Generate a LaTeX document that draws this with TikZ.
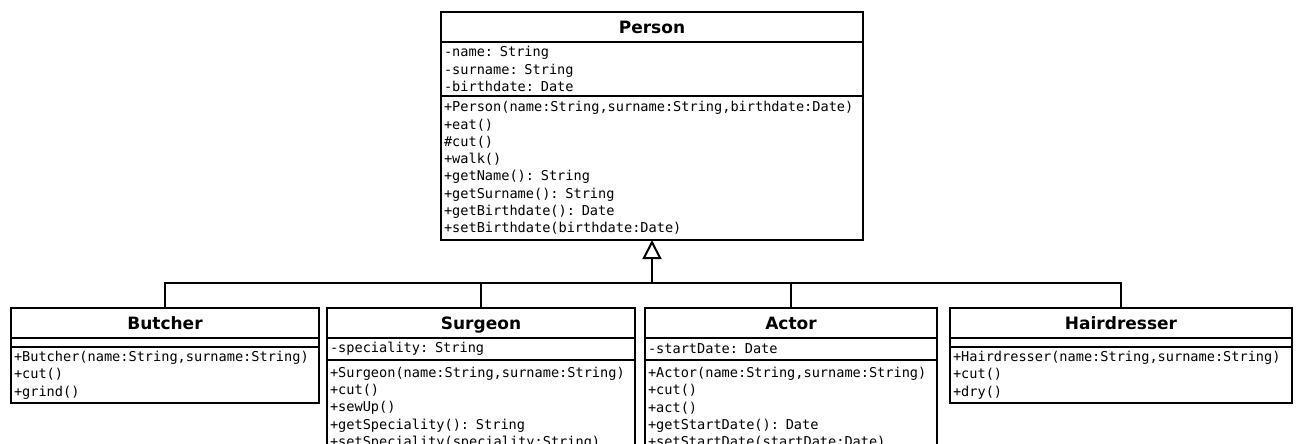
\documentclass[tikz,border=0pt]{standalone}
\usepackage{fontspec}
\setsansfont{DejaVu Sans}
\setmonofont{DejaVu Sans Mono}
\usetikzlibrary{arrows.meta}

\begin{document}
\begin{tikzpicture}[x=0.5pt,y=-0.5pt,line width=1pt]

        \path[use as bounding box] (0,0) rectangle (1296,444);
        \clip (0,0) rectangle (1296,444);

        \begin{scope}[every node/.style={draw,anchor=north west,outer sep=0pt,inner xsep=1.5pt,inner ysep=0pt}]
          \begin{scope}[every node/.append style={font=\sffamily\bfseries\fontsize{8.5}{10}\selectfont,align=center,minimum height=15pt,text height=7.9pt,text depth=1.7pt}]
            \node[minimum width=211pt] (person)      at (441,12)  {Person};
            \node[minimum width=154pt] (butcher)     at (11,308)  {Butcher};
            \node[minimum width=154pt] (surgeon)     at (327,308) {Surgeon};
            \node[minimum width=146pt] (actor)       at (645,308) {Actor};
            \node[minimum width=171pt] (hairdresser) at (950,308) {Hairdresser};
          \end{scope}

          \begin{scope}[every node/.append style={font=\ttfamily\fontsize{6.8}{8.65}\selectfont,align=left}]
            \node[text width=208pt,minimum height=27pt] (person-attr) at (person.south west) {-name: String\\-surname: String\\-birthdate: Date};
            \node[text width=208pt,minimum height=72pt] (person-ops) at (person-attr.south west) {+Person(name:String,surname:String,birthdate:Date)\\+eat()\\\#cut()\\+walk()\\+getName(): String\\+getSurname(): String\\+getBirthdate(): Date\\+setBirthdate(birthdate:Date)};

            \node[text width=151pt,minimum height=4.5pt] (butcher-attr) at (butcher.south west) {};
            \node[text width=151pt,minimum height=28pt] (butcher-ops) at (butcher-attr.south west) {+Butcher(name:String,surname:String)\\+cut()\\+grind()};

            \node[text width=151pt,minimum height=11pt] (surgeon-attr) at (surgeon.south west) {-speciality: String};
            \node[text width=151pt,minimum height=48pt] (surgeon-ops) at (surgeon-attr.south west) {+Surgeon(name:String,surname:String)\\+cut()\\+sewUp()\\+getSpeciality(): String\\+setSpeciality(speciality:String)};

            \node[text width=143pt,minimum height=11pt] (actor-attr) at (actor.south west) {-startDate: Date};
            \node[text width=143pt,minimum height=48pt] (actor-ops) at (actor-attr.south west) {+Actor(name:String,surname:String)\\+cut()\\+act()\\+getStartDate(): Date\\+setStartDate(startDate:Date)};

            \node[text width=168pt,minimum height=4.5pt] (hairdresser-attr) at (hairdresser.south west) {};
            \node[text width=168pt,minimum height=28pt] (hairdresser-ops) at (hairdresser-attr.south west) {+Hairdresser(name:String,surname:String)\\+cut()\\+dry()};
          \end{scope}
        \end{scope}

        \coordinate (bus) at ([yshift=-21.5pt]person-ops.south);

        \draw (butcher.north) |- (bus) -| (hairdresser.north);
        \draw (surgeon.north) -- (surgeon.north |- bus);
        \draw (actor.north) -- (actor.north |- bus);
        \draw[-{Triangle[open,length=9.5pt,width=9.5pt]}] (bus) -- (person-ops.south);

      \end{tikzpicture}
\end{document}
